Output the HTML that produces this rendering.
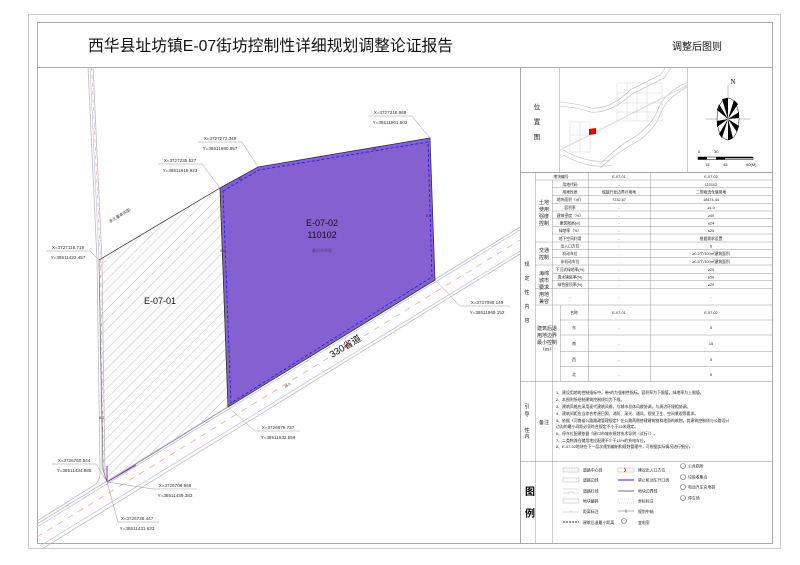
<!DOCTYPE html>
<html><head><meta charset="utf-8"><style>
html,body{margin:0;padding:0;background:#fff;}
svg{display:block;}
text{font-family:"Liberation Sans","Noto Sans CJK SC",sans-serif;}
.s{font-family:"Liberation Serif","Noto Serif CJK SC",serif;}
</style></head><body>
<svg width="800" height="565" viewBox="0 0 800 565" xmlns="http://www.w3.org/2000/svg">
<defs>
<pattern id="h" patternUnits="userSpaceOnUse" width="7" height="7" patternTransform="rotate(45)">
<line x1="0" y1="0" x2="0" y2="7" stroke="#888" stroke-width="0.5"/>
</pattern>
</defs>
<rect x="0" y="0" width="800" height="565" fill="#fff"/>
<rect x="28.5" y="14.5" width="752" height="534" fill="none" stroke="#ccc" stroke-width="1"/>
<rect x="37.5" y="22.5" width="735" height="521" fill="none" stroke="#aaa" stroke-width="1"/>
<line x1="37" y1="67.5" x2="773" y2="67.5" stroke="#aaa"/>
<text x="88" y="51" font-size="15.8" fill="#111" font-family="'Noto Sans CJK SC',sans-serif">西华县址坊镇E-07街坊控制性详细规划调整论证报告</text>
<text x="672" y="50" font-size="10" fill="#111" font-family="'Noto Sans CJK SC',sans-serif">调整后图则</text>
<line x1="520.5" y1="67" x2="520.5" y2="543" stroke="#aaa"/>

<path d="M88,67 L97,260 L100,470 Q101,478 96,484 L37,521" fill="none" stroke="#bbb" stroke-width="0.8"/>
<path d="M93,67 L102,260 L105,478" fill="none" stroke="#bbb" stroke-width="0.8"/>
<path d="M90,67 L99,260 L102,470" fill="none" stroke="#b9b9f0" stroke-width="0.6"/>
<path d="M91.5,67 L100.5,260 L103.5,475" fill="none" stroke="#f0a0a0" stroke-width="0.6" stroke-dasharray="4,4"/>
<polygon points="99,260 220,188 228,407 107,482 103,470" fill="url(#h)" stroke="#666" stroke-width="0.6"/>
<g fill="none">
<line x1="37" y1="524" x2="520" y2="227" stroke="#bbb" stroke-width="0.8"/>
<line x1="37" y1="527" x2="520" y2="230" stroke="#b9b9f0" stroke-width="0.7"/>
<line x1="37" y1="537" x2="520" y2="240" stroke="#f0a0a0" stroke-width="0.7" stroke-dasharray="6,6"/>
<line x1="40" y1="546" x2="520" y2="251" stroke="#b9b9f0" stroke-width="0.7"/>
<line x1="42" y1="549" x2="520" y2="254" stroke="#bbb" stroke-width="0.8"/>
</g>
<polygon points="220,188 258,167 430,138 435,280 228,407" fill="#8560d0" stroke="#333" stroke-width="0.8"/>
<polyline points="223,191 259,170 428,142 432,277 231,403 223,191" fill="none" stroke="#1a1aee" stroke-width="0.8" stroke-dasharray="3,2"/>
<line x1="99" y1="260" x2="220" y2="188" stroke="#333" stroke-width="0.6"/>
<path d="M107,482 L107,466 M107,482 L136,465" stroke="#8a2be2" stroke-width="1" fill="none"/>
<text x="0" y="0" font-size="4" transform="translate(110,223) rotate(-31)" fill="#222">永久基本农田</text>
<text x="322" y="226" font-size="9" text-anchor="middle" fill="#111">E-07-02</text>
<text x="322" y="238" font-size="9" text-anchor="middle" fill="#111">110102</text>
<text x="322" y="252" font-size="4" text-anchor="middle" fill="#222">⓪ⓒⓔⓟⓗ</text>
<text x="160" y="304" font-size="9" text-anchor="middle" fill="#111">E-07-01</text>
<text x="0" y="0" font-size="9.5" transform="translate(332,358) rotate(-31)" fill="#111">330省道</text>
<text x="0" y="0" font-size="3.5" transform="translate(285,388) rotate(-31)" fill="#333">36.0</text>
<text x="99" y="419" font-size="3.8" fill="#333">8.0</text>
<text x="220" y="252" font-size="3.8" fill="#333">5.0</text>
<text x="426" y="217" font-size="3.8" fill="#333">5.0</text>
<text x="238" y="180" font-size="3.8" fill="#333">10</text>
<text x="372" y="150" font-size="3.8" fill="#333">15</text>
<path d="M345,348 l3,-5 l2,2" stroke="#e00" stroke-width="0.7" fill="none"/>
<g font-size="4.6" fill="#333" text-anchor="middle" class="s">
<text x="390" y="114">X=3727318.969</text><text x="390" y="124">Y=38511961.502</text>
<text x="220" y="140">X=3727272.349</text><text x="220" y="150">Y=38511680.857</text>
<text x="180" y="162">X=3727235.527</text><text x="180" y="172">Y=38511618.923</text>
<text x="68" y="249">X=3727118.719</text><text x="68" y="259">Y=38511422.457</text>
<text x="487" y="304">X=3727090.149</text><text x="487" y="314">Y=38511969.152</text>
<text x="278" y="429">X=3726879.737</text><text x="278" y="439">Y=38511632.556</text>
<text x="74" y="462">X=3726760.544</text><text x="74" y="472">Y=38511434.885</text>
<text x="175" y="487">X=3726708.969</text><text x="175" y="497">Y=38511439.383</text>
<text x="137" y="520">X=3726736.447</text><text x="137" y="530">Y=38511431.633</text>
</g>
<g stroke="#999" stroke-width="0.5" fill="none">
<path d="M368,116 L412,116 L430,138"/><path d="M198,142 L242,142 L258,167"/>
<path d="M158,164 L202,164 L220,188"/><path d="M46,251 L90,251 L99,260"/>
<path d="M435,280 L460,306 L510,306"/><path d="M228,407 L255,431 L300,431"/>
<path d="M52,464 L96,464 L107,482"/><path d="M107,482 L153,489 L197,489"/>
<path d="M107,482 L118,522 L159,522"/>
</g>

<line x1="520" y1="172.5" x2="773" y2="172.5" stroke="#888" stroke-width="0.8"/>
<line x1="559.5" y1="67" x2="559.5" y2="172" stroke="#aaa" stroke-width="0.6"/>
<line x1="687.5" y1="67" x2="687.5" y2="172" stroke="#aaa" stroke-width="0.6"/>
<g font-size="6.5" fill="#222" text-anchor="middle" class="s"><text x="537" y="109">位</text><text x="537" y="124">置</text><text x="537" y="139">图</text></g>
<g fill="none" stroke="#bbb" stroke-width="0.6">
<path d="M559,102 Q580,104 590,108 Q610,110 630,90 Q650,80 660,75 L666,67"/>
<path d="M559,106 Q580,108 590,112 Q610,114 632,94 Q652,84 664,78 L672,67"/>
<path d="M600,168 Q620,150 640,140 Q655,128 660,115 Q665,100 682,90 L688,86"/>
<path d="M600,164 Q618,146 636,136 Q652,124 657,112 Q662,96 680,86 L688,82"/>
<path d="M563,150 Q590,165 610,160"/><path d="M563,155 Q590,170 612,165"/>
<line x1="560" y1="150" x2="688" y2="85" stroke="#ddd" stroke-width="1.2"/>
</g>
<g fill="none" stroke="#ccc" stroke-width="0.4">
<rect x="617" y="83" width="45" height="38"/><line x1="617" y1="93" x2="662" y2="93"/><line x1="617" y1="103" x2="662" y2="103"/><line x1="617" y1="112" x2="662" y2="112"/>
<line x1="627" y1="83" x2="627" y2="121"/><line x1="637" y1="83" x2="637" y2="121"/><line x1="647" y1="83" x2="647" y2="121"/>
<rect x="570" y="122" width="20" height="30"/><line x1="580" y1="122" x2="580" y2="152"/><line x1="570" y1="135" x2="590" y2="135"/>
</g>
<polygon points="589,129 596,128 596,134 589,135" fill="#e00"/>
<line x1="706" y1="119" x2="750" y2="119" stroke="#888" stroke-width="0.5"/>
<line x1="728" y1="85" x2="728" y2="140" stroke="#888" stroke-width="0.5"/>
<ellipse cx="728" cy="119" rx="11" ry="21" fill="#fff" stroke="#000" stroke-width="0.5"/>
<g fill="#000">
<path d="M728,119 L722,99 L728,98Z"/><path d="M728,119 L738,104 L734,100Z"/><path d="M728,119 L739,118 L739,112Z"/>
<path d="M728,119 L737,132 L739,126Z"/><path d="M728,119 L728,140 L733,138Z"/><path d="M728,119 L719,134 L722,138Z"/>
<path d="M728,119 L717,121 L717,127Z"/><path d="M728,119 L719,104 L717,110Z"/>
</g>
<text x="733" y="84" font-size="7" class="s" text-anchor="middle">N</text>
<rect x="698" y="157" width="55" height="2.5" fill="#fff" stroke="#000" stroke-width="0.5"/>
<rect x="698" y="157" width="9" height="2.5" fill="#000"/><rect x="716" y="157" width="9" height="2.5" fill="#000"/><rect x="725" y="157" width="28" height="1.3" fill="#000"/>
<g font-size="4" class="s" fill="#222"><text x="698" y="153">0</text><text x="714" y="153">30</text><text x="705" y="166">15</text><text x="723" y="166">45</text><text x="746" y="166">90(M)</text></g>

<g stroke="#999" stroke-width="0.5" fill="none">
<line x1="535.5" y1="172" x2="535.5" y2="543"/>
<line x1="552.5" y1="180" x2="552.5" y2="543"/>
<line x1="588.5" y1="172" x2="588.5" y2="381"/>
<line x1="650.5" y1="172" x2="650.5" y2="381"/>
<line x1="560.5" y1="305" x2="560.5" y2="381"/>
<line x1="535" y1="180" x2="773" y2="180"/>
<line x1="552" y1="187.7" x2="773" y2="187.7"/><line x1="552" y1="195.3" x2="773" y2="195.3"/>
<line x1="552" y1="203.3" x2="773" y2="203.3"/><line x1="552" y1="211" x2="773" y2="211"/>
<line x1="552" y1="218.7" x2="773" y2="218.7"/><line x1="552" y1="226.7" x2="773" y2="226.7"/>
<line x1="552" y1="234" x2="773" y2="234"/><line x1="535" y1="242" x2="773" y2="242"/>
<line x1="552" y1="249.3" x2="773" y2="249.3"/><line x1="552" y1="257.3" x2="773" y2="257.3"/>
<line x1="535" y1="265" x2="773" y2="265"/><line x1="552" y1="273.3" x2="773" y2="273.3"/>
<line x1="552" y1="280.7" x2="773" y2="280.7"/><line x1="535" y1="288.3" x2="773" y2="288.3"/>
<line x1="535" y1="305" x2="773" y2="305"/><line x1="560" y1="320" x2="773" y2="320"/>
<line x1="560" y1="335" x2="773" y2="335"/><line x1="560" y1="351.7" x2="773" y2="351.7"/>
<line x1="560" y1="366.7" x2="773" y2="366.7"/>
<line x1="520" y1="381.5" x2="773" y2="381.5" stroke="#888"/>
<line x1="520" y1="461.5" x2="773" y2="461.5" stroke="#888"/>
</g>
<g font-size="5" fill="#222" text-anchor="middle" class="s">
<text x="527" y="266">规</text><text x="527" y="280">定</text><text x="527" y="294">性</text><text x="527" y="308">内</text><text x="527" y="322">容</text>
<text x="544" y="204">土地</text><text x="544" y="211">使用</text><text x="544" y="218">强度</text><text x="544" y="225">控制</text>
<text x="544" y="252">交通</text><text x="544" y="259">控制</text>
<text x="544" y="275">海绵</text><text x="544" y="282">城市</text><text x="544" y="289">要求</text>
<text x="544" y="296">用地</text><text x="544" y="303">兼容</text>
<text x="547" y="330">建筑后退</text><text x="547" y="337">用地边界</text><text x="547" y="344">最小控制</text><text x="547" y="351">（m）</text>
</g>
<g font-size="3.8" fill="#222" text-anchor="middle" class="s">
<text x="561" y="178">地块编号</text><text x="619" y="178">E-07-01</text><text x="711" y="178">E-07-02</text>
<text x="570" y="186">用地代码</text><text x="619" y="186">-</text><text x="711" y="186">110102</text>
<text x="570" y="193.5">用地性质</text><text x="619" y="193.5">城镇开发边界外用地</text><text x="711" y="193.5">二类物流仓储用地</text>
<text x="570" y="201">地块面积（㎡）</text><text x="619" y="201">7232.67</text><text x="711" y="201">18474.44</text>
<text x="570" y="209">容积率</text><text x="619" y="209">-</text><text x="711" y="209">≥1.0</text>
<text x="570" y="217">建筑密度（%）</text><text x="619" y="217">-</text><text x="711" y="217">≥40</text>
<text x="570" y="224.5">建筑限高(m)</text><text x="619" y="224.5">-</text><text x="711" y="224.5">≤24</text>
<text x="570" y="232">绿地率（%）</text><text x="619" y="232">-</text><text x="711" y="232">≤20</text>
<text x="570" y="240">地下空间利用</text><text x="619" y="240">-</text><text x="711" y="240">根据需求设置</text>
<text x="570" y="247.5">出入口方位</text><text x="619" y="247.5">-</text><text x="711" y="247.5">S</text>
<text x="570" y="255">机动车位</text><text x="619" y="255">-</text><text x="711" y="255">≥0.2个/100㎡建筑面积</text>
<text x="570" y="263">非机动车位</text><text x="619" y="263">-</text><text x="711" y="263">≥0.5个/100㎡建筑面积</text>
<text x="570" y="271">下沉式绿地率(%)</text><text x="619" y="271">-</text><text x="711" y="271">≥20</text>
<text x="570" y="278.5">透水铺装率(%)</text><text x="619" y="278.5">-</text><text x="711" y="278.5">≥50</text>
<text x="570" y="286">绿色屋顶率(%)</text><text x="619" y="286">-</text><text x="711" y="286">≥20</text>
<text x="570" y="298">-</text><text x="619" y="298">-</text><text x="711" y="298">-</text>
<text x="574" y="314">名称</text><text x="619" y="314">E-07-01</text><text x="711" y="314">E-07-02</text>
<text x="574" y="329">东</text><text x="619" y="329">-</text><text x="711" y="329">5</text>
<text x="574" y="345">南</text><text x="619" y="345">-</text><text x="711" y="345">15</text>
<text x="574" y="361">西</text><text x="619" y="361">-</text><text x="711" y="361">5</text>
<text x="574" y="376">北</text><text x="619" y="376">-</text><text x="711" y="376">5</text>
</g>
<g font-size="5" fill="#222" text-anchor="middle" class="s">
<text x="527" y="408">引</text><text x="527" y="416">导</text><text x="527" y="432">性</text><text x="527" y="438">内</text>
<text x="544" y="424">备注</text>
</g>
<g font-size="3.9" fill="#222" class="s">
<text x="556" y="394">1、建设用地的控制指标中，带*的为强制性指标。容积率为下限值，绿地率为上限值。</text>
<text x="556" y="401">2、本图则所绘制建筑控制线均为下限。</text>
<text x="556" y="408">3、建筑风格应采用现代建筑风格，与城市总体风貌协调，与周边环境相协调。</text>
<text x="556" y="415">4、建筑间距应当综合考虑日照、消防、采光、通风、视觉卫生、空间景观等要求。</text>
<text x="556" y="422">5、依据《河南省公路路政管理规定》在公路两侧修建建筑物和地面构筑物，其建筑控制线与公路设计</text>
<text x="556" y="428">边沟的最小间距必须符合规定不小于15米规定。</text>
<text x="556" y="435">6、停车位配建依据《周口市城市规划技术导则（试行）》。</text>
<text x="556" y="442">7、二类物流仓储用地应配建不少于15%的充电车位。</text>
<text x="556" y="448">8、E-07-02地块在下一层次规划编制和规划管理中，可根据实际情况进行细分。</text>
</g>
<text x="530" y="495" font-size="10" font-weight="bold" font-family="'Noto Sans CJK SC',sans-serif" text-anchor="middle">图</text>
<text x="530" y="517" font-size="10" font-weight="bold" font-family="'Noto Sans CJK SC',sans-serif" text-anchor="middle">例</text>
<g stroke-width="0.6" fill="none">
<rect x="563" y="468" width="16" height="4" stroke="#bbb"/><line x1="564" y1="470" x2="578" y2="470" stroke="#f0a0a0" stroke-dasharray="1.5,1"/>
<rect x="563" y="478" width="16" height="4" stroke="#b9b9f0"/>
<path d="M563,489 h16 M563,493 h6 v-1 h4 v1 h6" stroke="#bbb"/>
<rect x="563" y="499" width="16" height="4" stroke="#bbb"/>
<path d="M563,512 h16 M571,510 v2" stroke="#bbb"/>
<line x1="563" y1="522" x2="579" y2="522" stroke="#1a1aee" stroke-dasharray="2,1" stroke-width="0.9"/>
<rect x="618" y="468" width="16" height="4" stroke="#bbb"/><path d="M624,468 l2,2 l-2,2" stroke="#e00"/>
<line x1="618" y1="480" x2="634" y2="480" stroke="#8a2be2" stroke-width="1.2"/>
<line x1="618" y1="491" x2="634" y2="491" stroke="#999" stroke-width="1.4"/>
<rect x="618" y="499" width="16" height="4" stroke="#bbb" stroke-dasharray="1,1"/>
<path d="M618,511 h16 M626,509 v4" stroke="#666"/>
<circle cx="624" cy="521" r="2.5" stroke="#666"/>
<circle cx="683" cy="466" r="2.5" stroke="#666"/><circle cx="683" cy="477" r="2.5" stroke="#666"/>
<circle cx="683" cy="487" r="2.5" stroke="#666"/><circle cx="683" cy="498" r="2.5" stroke="#666"/>
</g>
<g font-size="3.9" fill="#222" class="s">
<text x="583" y="471.5">道路中心线</text><text x="583" y="481.5">道路边线</text><text x="583" y="492.5">道路红线</text>
<text x="583" y="502.5">地块编码</text><text x="583" y="513">距离标注</text><text x="583" y="524">建筑后退最小距离</text>
<text x="638" y="471.5">建议出入口方位</text><text x="638" y="481.5">禁止机动车开口线</text><text x="638" y="492.5">地块边界线</text>
<text x="638" y="502.5">坐标标注</text><text x="638" y="513">规划中轴</text><text x="638" y="524">变电室</text>
<text x="688" y="467.5">公共厕所</text><text x="688" y="478.5">垃圾收集点</text><text x="688" y="488.5">电动汽车充电桩</text><text x="688" y="499.5">停车场</text>
</g>
</svg>
</body></html>
